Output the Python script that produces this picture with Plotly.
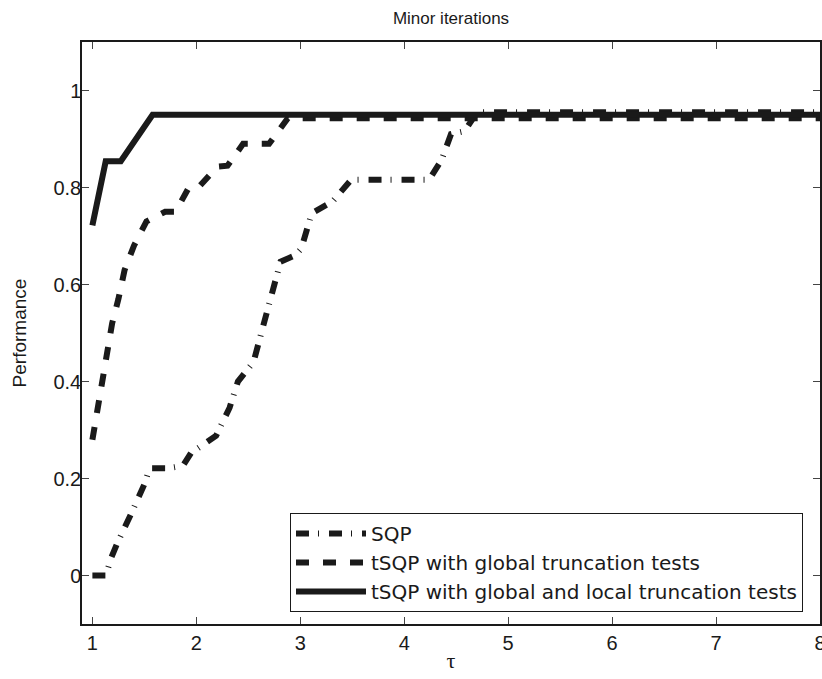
import plotly.graph_objects as go

# tau values and performance for each solver
sqp_x = [1.0, 1.13, 1.18, 1.24, 1.37, 1.50, 1.55, 1.72, 1.87, 1.95, 2.19, 2.32, 2.40, 2.55,
         2.64, 2.72, 2.81, 2.95, 3.01, 3.11, 3.31, 3.49, 4.24, 4.36, 4.45, 4.58, 4.70, 8.0]
sqp_y = [0.0, 0.0, 0.036, 0.067, 0.126, 0.188, 0.221, 0.221, 0.226, 0.253, 0.288, 0.346, 0.40, 0.44,
         0.512, 0.578, 0.647, 0.66, 0.674, 0.747, 0.771, 0.816, 0.816, 0.857, 0.91, 0.916, 0.955, 0.955]

glob_x = [1.0, 1.10, 1.19, 1.25, 1.31, 1.40, 1.52, 1.70, 1.80, 1.92, 2.02, 2.20, 2.30, 2.45, 2.70, 2.88, 8.0]
glob_y = [0.28, 0.40, 0.52, 0.57, 0.63, 0.68, 0.73, 0.75, 0.75, 0.797, 0.80, 0.843, 0.845, 0.89, 0.89, 0.943, 0.943]

loc_x = [1.0, 1.128, 1.273, 1.579, 8.0]
loc_y = [0.722, 0.854, 0.854, 0.950, 0.950]

names = ["SQP", "tSQP with global truncation tests", "tSQP with global and local truncation tests"]

x_ticks = [1, 2, 3, 4, 5, 6, 7, 8]
y_ticks = [0, 0.2, 0.4, 0.6, 0.8, 1]
y_tick_text = ["0", "0.2", "0.4", "0.6", "0.8", "1"]

ink = "#1a1a1a"
fig = go.Figure()
fig.add_trace(go.Scatter(x=sqp_x, y=sqp_y, mode="lines", name=names[0],
                         line=dict(color=ink, width=6, dash="13px,9px,1px,10px")))
fig.add_trace(go.Scatter(x=glob_x, y=glob_y, mode="lines", name=names[1],
                         line=dict(color=ink, width=6, dash="13px,14px")))
fig.add_trace(go.Scatter(x=loc_x, y=loc_y, mode="lines", name=names[2],
                         line=dict(color=ink, width=6)))

font_family = "Liberation Sans, Arial, sans-serif"
fig.update_layout(
    width=822, height=679,
    margin=dict(l=82, r=2, t=42, b=55, autoexpand=False),
    paper_bgcolor="white", plot_bgcolor="white",
    font=dict(family=font_family, size=20, color=ink),
    title=dict(text="Minor iterations", x=451 / 822, xref="container", xanchor="center",
               y=1 - 18 / 679, yref="container", yanchor="middle", font=dict(size=17),
               automargin=False),
    showlegend=True,
    legend=dict(x=(803 - 82) / 738, y=(624 - 612) / 582, xanchor="right", yanchor="bottom",
                bgcolor="white", bordercolor=ink, borderwidth=1,
                font=dict(family="DejaVu Sans, sans-serif", size=20), itemwidth=70, tracegroupgap=0),
)
fig.update_xaxes(range=[0.9, 8.0], tickvals=x_ticks, ticks="inside", ticklen=7,
                 showline=True, mirror="ticks", linecolor=ink, linewidth=1.5,
                 showgrid=False, zeroline=False, tickfont=dict(size=20),
                 automargin=False, ticklabeloverflow="allow",
                 title=dict(text="τ", font=dict(family="Liberation Serif, serif", size=22), standoff=0))
fig.update_yaxes(range=[-0.1, 1.1], tickvals=y_ticks, ticktext=y_tick_text, ticks="inside", ticklen=7,
                 showline=True, mirror="ticks", linecolor=ink, linewidth=1.5,
                 showgrid=False, zeroline=False, tickfont=dict(size=20), automargin=False,
                 ticklabelstandoff=-5,
                 title=dict(text="Performance", font=dict(size=19), standoff=22))

fig.write_html("out.html", config={"displayModeBar": False},
               post_script="document.body.style.margin='0';")
